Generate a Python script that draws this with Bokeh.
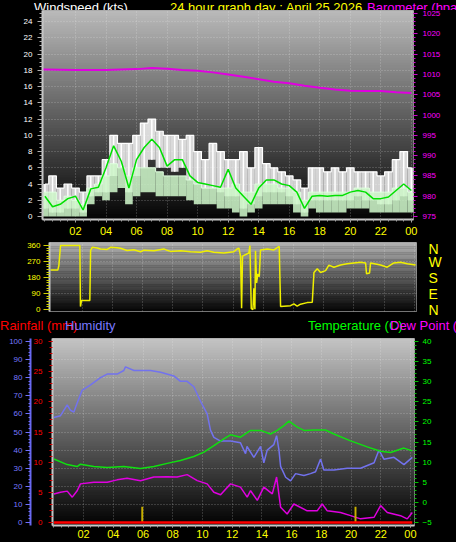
import numpy as np
from bokeh.plotting import figure
from bokeh.models import Range1d, LinearAxis, FixedTicker, Div
from bokeh.layouts import column
from bokeh.embed import file_html
from bokeh.resources import INLINE

FONT = "Liberation Sans"

# ---------------- data ----------------
x_ticks = [2, 4, 6, 8, 10, 12, 14, 16, 18, 20, 22, 24]
x_tick_labels = ["02", "04", "06", "08", "10", "12", "14", "16", "18", "20", "22", "00"]

# wind speed (kts), half-hour bins
wind_hours = [0.0, 0.5, 1.0, 1.5, 2.0, 2.5, 3.0, 3.5, 4.0, 4.5, 5.0, 5.5, 6.0, 6.5, 7.0, 7.5,
              8.0, 8.5, 9.0, 9.5, 10.0, 10.5, 11.0, 11.5, 12.0, 12.5, 13.0, 13.5, 14.0, 14.5,
              15.0, 15.5, 16.0, 16.5, 17.0, 17.5, 18.0, 18.5, 19.0, 19.5, 20.0, 20.5, 21.0,
              21.5, 22.0, 22.5, 23.0, 23.5, 24.0]
gust_hi = [4, 5, 3.5, 4, 3.5, 3, 5, 5, 7, 10, 9, 9, 10, 11.5, 12, 10.5, 10, 10, 9.5, 10, 8, 7,
           9, 8, 7, 7, 8, 6, 8.5, 6.5, 6, 5.5, 5, 4.5, 3.5, 6, 6, 5.5, 6, 5.5, 6, 5.5, 5.5,
           5.5, 5, 5.5, 7, 8, 6]
gust_lo = [1, 0.5, 0.5, 1, 1, 0.5, 2.5, 3, 3, 5, 6, 3, 5, 6, 7, 6, 6, 5.5, 6, 4.5, 4, 3.5,
           3.5, 3, 2.5, 2.5, 1, 1.5, 2.5, 3, 3, 3, 2.5, 1.5, 0.5, 2, 2, 2, 2, 2, 2, 2.5, 2,
           2, 1.5, 1.5, 2, 2.5, 2]
avg_hi = [3, 3, 2, 2.5, 2, 1.5, 3.5, 4, 5, 6.5, 6, 5, 6, 6, 6, 5.5, 5, 5, 5, 4.5, 4, 3.5,
          3.5, 3.5, 3.5, 4, 3, 3, 4, 4, 4, 3.5, 3.5, 3, 2, 3, 3, 3, 3, 3, 3, 3.5, 3.5, 3, 3,
          3, 3.5, 3.5, 3]
avg_lo = [0, 0, 0, 0, 0, 0, 1.5, 2.5, 2, 3, 3.5, 1.5, 2.5, 3, 3, 2.5, 2.5, 2.5, 2.5, 2, 1.5,
          1.5, 1.5, 1, 1, 0.5, 0, 0.5, 1, 1.5, 1.5, 1.5, 1.5, 0.5, 0, 1, 0.5, 0.5, 0.5, 0.5,
          1, 1, 1, 0.5, 0.5, 0.5, 0.5, 0.5, 0.5]
avg_line = [2.5, 1.2, 1.5, 2.2, 2.5, 0.8, 3.4, 3.6, 6, 8.7, 6.8, 3.5, 7, 8.5, 9.5, 8.5, 6.2,
            7, 7, 5, 4.2, 4, 3.8, 3.6, 5.8, 3.5, 2.5, 1.5, 3.5, 4.5, 4.5, 4, 3.8, 3.0, 1.0,
            2.5, 2.6, 2.5, 2.6, 2.6, 3, 3.2, 3.0, 2.2, 2.2, 2.4, 3.2, 4, 3.2]

# barometer (hPa)
baro_hours = [-0.16, 0, 2, 4, 6, 7, 8, 9, 10, 11, 12, 13, 14, 15, 16, 17, 18, 19, 20, 21, 22, 23, 24]
baro = [1011.2, 1011.2, 1011.1, 1011.1, 1011.3, 1011.6, 1011.4, 1011.1, 1010.9, 1010.5, 1010.0,
        1009.4, 1008.8, 1008.2, 1007.8, 1007.2, 1006.7, 1006.3, 1006.0, 1005.9, 1005.9,
        1005.6, 1005.4]

# wind direction (degrees)
dir_hours = [-0.09, 0.39, 0.46, 0.57, 1.85, 1.89, 1.96, 2.51, 2.56, 2.67, 3.0, 3.22, 3.66,
             3.88, 4.32, 4.54, 4.98, 5.43, 5.87, 6.09, 6.75, 7.41, 7.63, 7.85, 8.52, 9.18,
             9.84, 10.28, 10.72, 11.39, 12.05, 12.27, 12.38, 12.49, 12.56, 12.62, 13.04,
             13.11, 13.2, 13.31, 13.37, 13.44, 13.48, 13.55, 13.64, 13.73, 13.81, 14.26,
             14.7, 15.05, 15.14, 15.8, 16.02, 16.24, 16.46, 16.9, 17.24, 17.35, 17.57,
             17.79, 18.12, 18.34, 18.67, 19.11, 19.55, 19.99, 20.44, 20.77, 20.83, 21.03,
             21.1, 21.76, 22.2, 22.64, 23.08, 23.53, 24.08]
dir_deg = [222, 222, 247, 360, 360, 17, 51, 51, 332, 350, 346, 341, 338, 350, 348, 345, 332,
           336, 325, 334, 330, 341, 333, 327, 330, 325, 322, 330, 322, 318, 325, 341, 345,
           300, 8, 300, 318, 360, 5, 0, 120, 2, 330, 150, 200, 185, 335, 340, 335, 355, 17,
           22, 32, 19, 30, 39, 41, 208, 230, 208, 219, 250, 238, 250, 257, 262, 266, 262,
           201, 205, 262, 250, 238, 262, 266, 257, 250]

# humidity (%)
hum_hours = [0.0, 0.45, 0.67, 0.9, 1.12, 1.35, 1.57, 1.9, 2.47, 3.14, 3.59, 4.26, 4.71, 4.82,
             5.39, 5.83, 6.5, 7.18, 8.08, 8.52, 8.97, 9.42, 9.87, 10.32, 10.54, 10.77, 11.22,
             11.89, 12.56, 12.9, 13.0, 13.46, 13.91, 14.13, 14.36, 14.8, 14.99, 15.15, 15.26,
             15.6, 15.93, 16.27, 16.83, 17.27, 17.61, 17.95, 18.17, 18.85, 19.74, 20.64,
             21.55, 21.88, 22.21, 22.89, 23.56, 24.12]
hum = [58, 59, 62, 65, 62, 61, 66, 73, 76, 80, 82, 82, 84, 86, 84, 84, 84, 83, 81, 78, 78, 75,
       67, 60, 51, 47, 45, 45, 44, 38, 42, 36, 42, 33, 40, 43, 48, 40, 31, 25, 23, 27, 26, 27,
       28, 35, 29, 29, 30, 30, 33, 40, 35, 36, 32, 36]

# temperature (C)
temp_hours = [0.0, 0.9, 1.57, 1.79, 2.69, 3.59, 4.71, 5.83, 6.73, 7.63, 8.52, 9.42, 10.1,
              10.77, 11.44, 11.89, 12.56, 13.24, 13.91, 14.58, 15.03, 15.48, 15.82, 16.38,
              16.83, 17.5, 18.28, 18.85, 19.97, 21.09, 21.99, 22.66, 23.56, 24.12]
temp = [10.8, 9.4, 8.9, 9.5, 8.9, 8.7, 8.9, 8.4, 8.9, 9.7, 10.4, 11.4, 12.5, 14.1, 15.8, 16.8,
        16.2, 17.9, 17.9, 17.0, 17.9, 19.1, 20.2, 18.7, 17.9, 18.0, 18.0, 17.0, 15.3, 13.8,
        12.7, 12.4, 13.5, 12.8]

# dew point (C)
dew_hours = [0.0, 0.45, 0.9, 1.24, 1.57, 1.79, 2.69, 3.59, 4.26, 4.93, 5.83, 6.73, 7.63, 8.3,
             8.97, 9.65, 10.32, 10.77, 11.22, 11.89, 12.56, 13.01, 13.24, 13.69, 14.13, 14.7,
             14.99, 15.26, 15.7, 16.15, 17.05, 17.72, 18.06, 18.4, 19.29, 19.97, 20.64, 21.55,
             21.99, 22.44, 23.33, 23.78, 24.12]
dew = [2.1, 2.5, 2.8, 1.3, 2.9, 4.6, 5.0, 5.0, 5.6, 6.0, 5.4, 6.3, 6.4, 6.3, 6.9, 5.4, 4.6,
       2.5, 1.9, 4.6, 3.8, 1.3, 2.9, 0.5, 3.8, 2.1, 6.3, -1.2, -2.9, -0.4, -2.1, -2.1, -0.4,
       -2.1, -2.5, -3.3, -4.1, -3.7, -0.8, -2.5, -3.3, -4.1, -2.5]

# rainfall (mm) and rain-rate marks
rain_hours = [0.0, 24.12]
rain = [0.0, 0.0]
rate_hours = [5.95, 20.3]
rate = [2.6, 2.6]

# header texts
top_titles = ["Windspeed (kts)", "24 hour graph day : April 25 2026", "Barometer (hpa)"]
top_colors = ["#ffffff", "#ffff00", "#ff00ff"]
low_titles = ["Rainfall (mm)", "Humidity", "Temperature (C)", "Dew Point (C)"]
low_colors = ["#ff0000", "#7878ff", "#00ff00", "#ff00ff"]


# ---------------- helpers ----------------
def gray_hex(v):
    v = int(round(v))
    return "#%02x%02x%02x" % (v, v, v)


def add_gradient(p, xr, yr, top_level, bottom_level, n=80):
    edges = np.linspace(yr[0], yr[1], n + 1)
    step = edges[1] - edges[0]
    cols = [gray_hex(bottom_level + (top_level - bottom_level) * (i + 0.5) / n) for i in range(n)]
    p.quad(left=xr[0], right=xr[1], bottom=edges[:-1], top=edges[1:] + step * 0.4,
           fill_color=cols, line_color=None, level="image")


def style_axis(ax, label_color, tick_color, line_color, size="8px", tick_out=4,
               minor_out=2, standoff=4, line_width=1):
    ax.axis_line_color = line_color
    ax.axis_line_width = line_width
    ax.major_tick_line_color = tick_color
    ax.minor_tick_line_color = tick_color
    ax.major_tick_in = 0
    ax.major_tick_out = tick_out
    ax.minor_tick_in = 0
    ax.minor_tick_out = minor_out
    ax.major_label_text_color = label_color
    ax.major_label_text_font = FONT
    ax.major_label_text_font_size = size
    ax.major_label_standoff = standoff


def style_grid(g, ticks):
    g.ticker = FixedTicker(ticks=ticks)
    g.grid_line_color = "#f0f0f0"
    g.grid_line_alpha = 0.35
    g.grid_line_dash = "1 2"


def make_fig(w, h, xr, yr, bl, br, bt, bb):
    p = figure(width=w, height=h, x_range=Range1d(*xr), y_range=Range1d(*yr),
               output_backend="svg", toolbar_location=None, title=None,
               min_border_left=bl, min_border_right=br, min_border_top=bt,
               min_border_bottom=bb, background_fill_color="black",
               border_fill_color="black", outline_line_color="#9a9a9a",
               frame_align=False)
    return p


def title_strip(h, texts, colors, xs, top):
    spans = "".join(
        '<span style="position:absolute;left:%dpx;top:%dpx;color:%s;'
        "font-family:'%s';font-size:13px;line-height:13px;white-space:nowrap\">%s</span>"
        % (x, top, c, FONT, s) for s, c, x in zip(texts, colors, xs))
    html = ('<div style="position:relative;width:456px;height:%dpx;overflow:hidden;'
            'background:black;margin:0;padding:0">%s</div>' % (h, spans))
    return Div(text=html, width=456, height=h,
               styles={"overflow": "hidden", "background-color": "black",
                       "margin": "0", "padding": "0"})


x_minor = np.arange(0, 24.01, 0.5).tolist()

# ---------------- header strip 1 ----------------
t1 = title_strip(10, top_titles, top_colors, [34, 170, 367], -1)

# ---------------- panel 1: wind speed + barometer ----------------
XR1 = (-0.16, 24.14)
YR1 = (-0.37, 25.37)
p1 = make_fig(456, 230, XR1, YR1, 42, 43, 0, 21)
add_gradient(p1, XR1, YR1, 186, 4)

p1.xaxis.ticker = FixedTicker(ticks=x_ticks, minor_ticks=x_minor)
p1.xaxis.major_label_overrides = dict(zip(x_ticks, x_tick_labels))
style_axis(p1.xaxis[0], "#ffff00", "#a0a0a0", "#c8c8c8", size="11px", tick_out=3,
           minor_out=2, standoff=4, line_width=2)
p1.yaxis.ticker = FixedTicker(ticks=list(range(0, 25, 2)),
                              minor_ticks=np.arange(0, 25.01, 0.5).tolist())
style_axis(p1.yaxis[0], "#ffffff", "#b0b0b0", "#c8c8c8", tick_out=5, minor_out=3,
           standoff=5, line_width=2)
style_grid(p1.xgrid[0], x_ticks)
style_grid(p1.ygrid[0], list(range(2, 25, 2)))

p1.extra_y_ranges = {"baro": Range1d(974.26, 1025.74)}
baro_axis = LinearAxis(y_range_name="baro",
                       ticker=FixedTicker(ticks=list(range(975, 1026, 5)),
                                          minor_ticks=list(range(975, 1026, 1))))
style_axis(baro_axis, "#ff00ff", "#d000d0", None, tick_out=4, minor_out=2, standoff=5)
p1.add_layout(baro_axis, "right")

left = [h - 0.25 for h in wind_hours]
right = [h + 0.25 for h in wind_hours]
p1.quad(left=left, right=right, bottom=gust_lo, top=gust_hi, fill_color="#ffffff",
        fill_alpha=0.8, line_color=None)
p1.segment(x0=wind_hours, y0=gust_lo, x1=wind_hours, y1=gust_hi, line_color="#ffffff",
           line_width=1.5)
p1.step(wind_hours, gust_hi, mode="center", line_color="#ffffff", line_width=1.2)
p1.quad(left=left, right=right, bottom=avg_lo, top=avg_hi, fill_color="#cdf5c8",
        fill_alpha=0.88, line_color=None)
p1.step(wind_hours, avg_hi, mode="center", line_color="#e0ffe0", line_width=1)
p1.line(wind_hours, avg_line, line_color="#00e000", line_width=1.5)
p1.line(baro_hours, baro, line_color="#e000e0", line_width=2, y_range_name="baro")

# ---------------- panel 2: wind direction ----------------
XR2 = (-0.16, 24.14)
YR2 = (-11, 377)
p2 = make_fig(456, 78, XR2, YR2, 49, 40, 2, 7)
add_gradient(p2, XR2, YR2, 180, 4)
p2.xaxis.visible = False
p2.yaxis.ticker = FixedTicker(ticks=[0, 90, 180, 270, 360],
                              minor_ticks=list(range(0, 361, 15)))
style_axis(p2.yaxis[0], "#ffff00", "#d0d000", "#c8c8c8", tick_out=6, minor_out=3,
           standoff=3, line_width=2)
style_grid(p2.xgrid[0], x_ticks)
style_grid(p2.ygrid[0], [90, 180, 270])
compass = LinearAxis(ticker=FixedTicker(ticks=[0, 90, 180, 270, 360], minor_ticks=[]),
                     major_label_overrides={0: "N", 90: "E", 180: "S", 270: "W", 360: "N"})
style_axis(compass, "#ffff00", None, None, size="14px", tick_out=0, minor_out=0, standoff=12)
p2.add_layout(compass, "right")
p2.line(dir_hours, dir_deg, line_color="#f0f000", line_width=1.5)

# ---------------- header strip 2 ----------------
t3 = title_strip(16, low_titles, low_colors, [0, 65, 308, 390], 1)

# ---------------- panel 3: rain / humidity / temperature / dew point ----------------
XR3 = (-0.09, 24.27)
YR3 = (-0.5, 30.5)
p3 = make_fig(456, 208, XR3, YR3, 52, 42, 4, 17)
add_gradient(p3, XR3, YR3, 196, 2)
p3.xaxis.ticker = FixedTicker(ticks=x_ticks, minor_ticks=x_minor)
p3.xaxis.major_label_overrides = dict(zip(x_ticks, x_tick_labels))
style_axis(p3.xaxis[0], "#ffff00", "#a0a0a0", "#c8c8c8", size="11px", tick_out=2,
           minor_out=2, standoff=2, line_width=2)
p3.yaxis.ticker = FixedTicker(ticks=list(range(0, 31, 5)), minor_ticks=list(range(0, 31, 1)))
style_axis(p3.yaxis[0], "#ff0000", "#d00000", "#c8c8c8", tick_out=4, minor_out=3,
           standoff=6, line_width=2)
style_grid(p3.xgrid[0], x_ticks)
style_grid(p3.ygrid[0], list(range(3, 30, 3)))

p3.extra_y_ranges = {"hum": Range1d(-1.67, 101.67), "temp": Range1d(-5.75, 40.75)}
hum_axis = LinearAxis(y_range_name="hum",
                      ticker=FixedTicker(ticks=list(range(0, 101, 10)),
                                         minor_ticks=list(range(0, 101, 2))))
style_axis(hum_axis, "#7878ff", "#7070ff", "#6868f0", tick_out=5, minor_out=2, standoff=3,
           line_width=2)
p3.add_layout(hum_axis, "left")
temp_axis = LinearAxis(y_range_name="temp",
                       ticker=FixedTicker(ticks=list(range(-5, 41, 5)),
                                          minor_ticks=list(range(-5, 41, 1))))
style_axis(temp_axis, "#00ff00", "#00c000", None, tick_out=4, minor_out=2, standoff=4)
p3.add_layout(temp_axis, "right")

p3.line(hum_hours, hum, line_color="#7272ee", line_width=1.5, y_range_name="hum")
p3.line(temp_hours, temp, line_color="#10e010", line_width=1.5, y_range_name="temp")
p3.line(dew_hours, dew, line_color="#e000e0", line_width=1.5, y_range_name="temp")
p3.vbar(x=rate_hours, top=rate, bottom=0, width=0.13, fill_color="#c8b000", line_color=None)
p3.line(rain_hours, rain, line_color="#ff0000", line_width=2.5)

layout = column(t1, p1, p2, t3, p3, spacing=0, styles={"background-color": "black"})

html = file_html(layout, INLINE, title="Weather graph")
open("out.html", "w").write(html)
